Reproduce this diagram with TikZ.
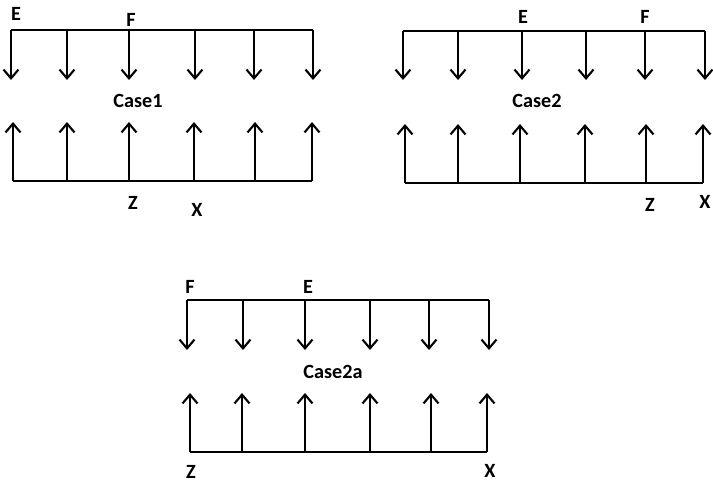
\documentclass[tikz,border=0pt]{standalone}
\usepackage{fontspec}
\setmainfont{Carlito}
\usetikzlibrary{arrows.meta}
\tikzset{
	load/.style={line width=1.2pt, -{Straight Barb[length=5pt,width=8.5pt,line width=1.2pt]}},
	beam/.style={line width=1.2pt},
	lbl/.style={font=\bfseries\fontsize{11.5}{13}\selectfont, inner sep=0pt}
}

\begin{document}
\begin{tikzpicture}[x=0.02cm, y=-0.02cm]
		%%%%% START %%%%%
		\useasboundingbox (0, 0) rectangle (713, 485);
		
		% Case1
		\draw[beam] (11, 30) -- (313, 30);
		\draw[load] (11, 30) -- (11, 80);
		\draw[load] (67, 30) -- (67, 80);
		\draw[load] (129, 30) -- (129, 80);
		\draw[load] (195, 30) -- (195, 80);
		\draw[load] (254, 30) -- (254, 80);
		\draw[load] (313, 30) -- (313, 80);
		\draw[beam] (13, 181) -- (312, 181);
		\draw[load] (13, 181) -- (13, 122);
		\draw[load] (67, 181) -- (67, 122);
		\draw[load] (129, 181) -- (129, 122);
		\draw[load] (194, 181) -- (194, 122);
		\draw[load] (255, 181) -- (255, 122);
		\draw[load] (312, 181) -- (312, 122);
		\node[lbl] (e1) at (16, 14) {E};
		\node[lbl] (f1) at (131, 20) {F};
		\node[lbl] (case1) at (138, 101) {Case1};
		\node[lbl] (z1) at (133, 203) {Z};
		\node[lbl] (x1) at (197, 210) {X};
		
		% Case2
		\draw[beam] (403, 31) -- (705, 31);
		\draw[load] (403, 31) -- (403, 80);
		\draw[load] (458, 31) -- (458, 80);
		\draw[load] (522, 31) -- (522, 80);
		\draw[load] (586, 31) -- (586, 80);
		\draw[load] (645, 31) -- (645, 80);
		\draw[load] (705, 31) -- (705, 80);
		\draw[beam] (405, 183) -- (703, 183);
		\draw[load] (405, 183) -- (405, 124);
		\draw[load] (458, 183) -- (458, 124);
		\draw[load] (520, 183) -- (520, 124);
		\draw[load] (585, 183) -- (585, 124);
		\draw[load] (646, 183) -- (646, 124);
		\draw[load] (703, 183) -- (703, 124);
		\node[lbl] (e2) at (523, 17) {E};
		\node[lbl] (f2) at (645, 17) {F};
		\node[lbl] (case2) at (537, 101) {Case2};
		\node[lbl] (z2) at (650, 205) {Z};
		\node[lbl] (x2) at (705, 202) {X};
		
		% Case2a
		\draw[beam] (187, 300) -- (489, 300);
		\draw[load] (187, 300) -- (187, 350);
		\draw[load] (243, 300) -- (243, 350);
		\draw[load] (305, 300) -- (305, 350);
		\draw[load] (370, 300) -- (370, 350);
		\draw[load] (429, 300) -- (429, 350);
		\draw[load] (489, 300) -- (489, 350);
		\draw[beam] (190, 452) -- (487, 452);
		\draw[load] (190, 452) -- (190, 393);
		\draw[load] (242, 452) -- (242, 393);
		\draw[load] (305, 452) -- (305, 393);
		\draw[load] (370, 452) -- (370, 393);
		\draw[load] (431, 452) -- (431, 393);
		\draw[load] (487, 452) -- (487, 393);
		\node[lbl] (f3) at (190, 287) {F};
		\node[lbl] (e3) at (308, 287) {E};
		\node[lbl] (case2a) at (333, 372) {Case2a};
		\node[lbl] (z3) at (191, 472) {Z};
		\node[lbl] (x3) at (490, 471) {X};
		
		%%%%% END %%%%%
	\end{tikzpicture}
\end{document}
